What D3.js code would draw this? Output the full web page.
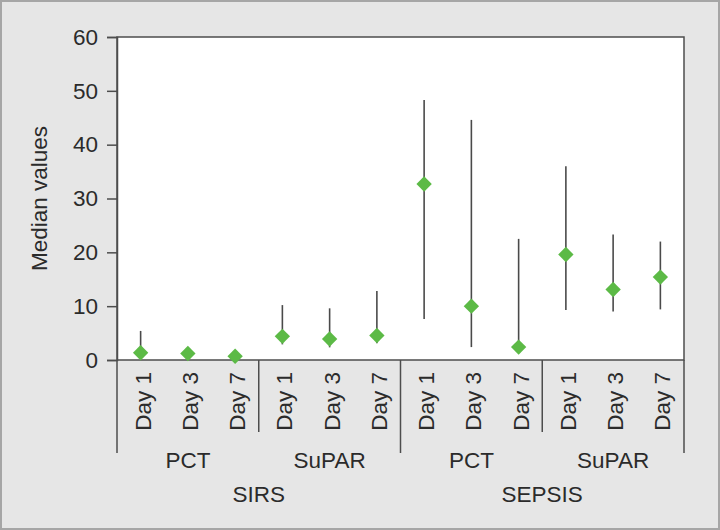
<!DOCTYPE html>
<html>
<head>
<meta charset="utf-8">
<script src="https://cdn.jsdelivr.net/npm/d3@7"></script>
<style>
  body { margin: 0; background: #e6e6e6; }
  svg { display: block; font-family: "Liberation Sans", Arial, sans-serif; }
</style>
</head>
<body>
<svg id="chart"></svg>
<script>
// Data
const conditions = ["SIRS", "SEPSIS"];
const markers = ["PCT", "SuPAR"];
const days = ["Day 1", "Day 3", "Day 7"];
const medians = [1.35, 1.2, 0.7, 4.4, 3.9, 4.55, 32.7, 10.0, 2.4, 19.6, 13.1, 15.4];
const lows = [0.8, 1.0, 0.5, 2.9, 2.35, 3.1, 7.6, 2.4, 2.0, 9.3, 9.0, 9.4];
const highs = [5.4, 1.3, 0.8, 10.2, 9.6, 12.8, 48.3, 44.6, 22.5, 36.0, 23.3, 22.0];
const yTicks = [0, 10, 20, 30, 40, 50, 60];

const width = 720,
  height = 530,
  margin = { top: 37, right: 36, bottom: 170, left: 117 };

const fs = 22.5;

const svg = d3.select("#chart").attr("width", width).attr("height", height);

// background and outer frame
svg.append("rect")
  .attr("x", 1).attr("y", 1)
  .attr("width", width - 2).attr("height", height - 2)
  .attr("fill", "#e6e6e6")
  .attr("stroke", "#a6a6a6")
  .attr("stroke-width", 2);

const data = [];
conditions.forEach((c) => {
  markers.forEach((m) => {
    days.forEach((d) => {
      const i = data.length;
      data.push({ key: c + "|" + m + "|" + d, cond: c, marker: m, day: d,
        median: medians[i], low: lows[i], high: highs[i] });
    });
  });
});

const x = d3.scaleBand()
  .domain(data.map((d) => d.key))
  .range([margin.left, width - margin.right])
  .padding(0);

const y = d3.scaleLinear()
  .domain([0, 60])
  .range([height - margin.bottom, margin.top]);

const y0 = y(0);
const axisColor = "#4d4d4d";
const textColor = "#2b2b2b";

// plot area
svg.append("rect")
  .attr("x", margin.left).attr("y", margin.top)
  .attr("width", width - margin.right - margin.left)
  .attr("height", y0 - margin.top)
  .attr("fill", "#fff")
  .attr("stroke", axisColor)
  .attr("stroke-width", 1.5);

// y axis
const yAxis = svg.append("g")
  .attr("transform", `translate(${margin.left},0)`)
  .call(d3.axisLeft(y).tickValues(yTicks).tickSize(10).tickPadding(9));
yAxis.select(".domain").attr("stroke", axisColor).attr("stroke-width", 1.5);
yAxis.selectAll(".tick line").attr("stroke", axisColor).attr("stroke-width", 1.5);
yAxis.selectAll(".tick text")
  .attr("font-size", fs)
  .attr("fill", textColor)
  .style("font-family", "Liberation Sans, Arial, sans-serif");

svg.append("text")
  .attr("transform", `translate(47,${(margin.top + y0) / 2}) rotate(-90)`)
  .attr("text-anchor", "middle")
  .attr("font-size", fs)
  .attr("fill", textColor)
  .text("Median values");

// whiskers
svg.append("g")
  .selectAll("line")
  .data(data)
  .enter()
  .append("line")
  .attr("x1", (d) => x(d.key) + x.bandwidth() / 2)
  .attr("x2", (d) => x(d.key) + x.bandwidth() / 2)
  .attr("y1", (d) => y(d.low))
  .attr("y2", (d) => y(d.high))
  .attr("stroke", "#4a4a4a")
  .attr("stroke-width", 1.6);

// median diamonds
const diamond = d3.symbol().type(d3.symbolDiamond2).size(150);
svg.append("g")
  .selectAll("path")
  .data(data)
  .enter()
  .append("path")
  .attr("d", diamond)
  .attr("transform", (d) => `translate(${x(d.key) + x.bandwidth() / 2},${y(d.median)})`)
  .attr("fill", "#5cba46");

// category axis: day labels
svg.append("g")
  .selectAll("text")
  .data(data)
  .enter()
  .append("text")
  .attr("transform", (d) => `translate(${x(d.key) + x.bandwidth() / 2 + 10},${y0 + 12}) rotate(-90)`)
  .attr("text-anchor", "end")
  .attr("font-size", fs)
  .attr("fill", textColor)
  .text((d) => d.day);

// separators between marker groups and condition groups
const groupW = x.bandwidth() * days.length;
const seps = [];
for (let g = 0; g <= conditions.length * markers.length; g++) {
  seps.push({ x: margin.left + g * groupW, long: g % markers.length === 0 });
}
svg.append("g")
  .selectAll("line")
  .data(seps)
  .enter()
  .append("line")
  .attr("x1", (d) => d.x)
  .attr("x2", (d) => d.x)
  .attr("y1", y0)
  .attr("y2", (d) => (d.long ? y0 + 93 : y0 + 72))
  .attr("stroke", axisColor)
  .attr("stroke-width", 1.5);

// marker labels
const markerGroups = [];
conditions.forEach((c, ci) => {
  markers.forEach((m, mi) => {
    markerGroups.push({ label: m, idx: ci * markers.length + mi });
  });
});
svg.append("g")
  .selectAll("text")
  .data(markerGroups)
  .enter()
  .append("text")
  .attr("x", (d) => margin.left + (d.idx + 0.5) * groupW)
  .attr("y", y0 + 108)
  .attr("text-anchor", "middle")
  .attr("font-size", fs)
  .attr("fill", textColor)
  .text((d) => d.label);

// condition labels
svg.append("g")
  .selectAll("text")
  .data(conditions)
  .enter()
  .append("text")
  .attr("x", (d, i) => margin.left + (i + 0.5) * groupW * markers.length)
  .attr("y", y0 + 142)
  .attr("text-anchor", "middle")
  .attr("font-size", fs)
  .attr("fill", textColor)
  .text((d) => d);
</script>
</body>
</html>
